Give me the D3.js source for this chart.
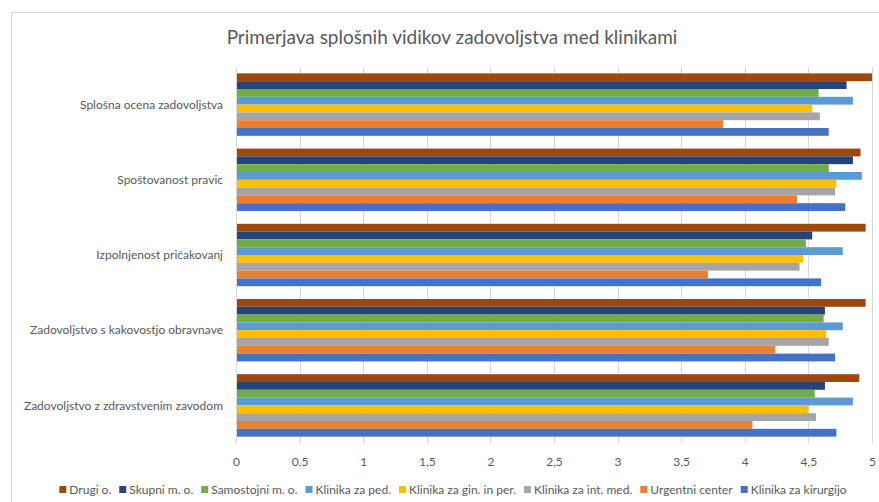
<!DOCTYPE html>
<html>
<head>
<meta charset="utf-8" />
<title>Primerjava splošnih vidikov zadovoljstva</title>
<style>
* { padding: 0; margin: 0; }
body { background: #fff; }
#chart { width: 879px; height: 502px; }
text { font-family: Lato, "Open Sans", sans-serif; fill: #595959; }
</style>
</head>
<body>
<div id="chart"></div>
<script src="https://cdn.jsdelivr.net/npm/d3@7"></script>
<script>
    // categories top to bottom
    var categories = [
        "Splošna ocena zadovoljstva",
        "Spoštovanost pravic",
        "Izpolnjenost pričakovanj",
        "Zadovoljstvo s kakovostjo obravnave",
        "Zadovoljstvo z zdravstvenim zavodom"
    ]
    // series in legend order (also top to bottom inside each group)
    var seriesNames = ["Drugi o.", "Skupni m. o.", "Samostojni m. o.", "Klinika za ped.",
        "Klinika za gin. in per.", "Klinika za int. med.", "Urgentni center", "Klinika za kirurgijo"]
    var seriesColors = ["#9e480e", "#264478", "#70ad47", "#5b9bd5", "#ffc000", "#a5a5a5", "#ed7d31", "#4472c4"]

    var drugi      = [5.00, 4.91, 4.95, 4.95, 4.90]
    var skupni     = [4.80, 4.85, 4.53, 4.63, 4.63]
    var samostojni = [4.58, 4.66, 4.48, 4.62, 4.55]
    var pediatrija = [4.85, 4.92, 4.77, 4.77, 4.85]
    var ginekol    = [4.53, 4.72, 4.46, 4.64, 4.50]
    var intMed     = [4.59, 4.71, 4.43, 4.66, 4.56]
    var urgentni   = [3.83, 4.41, 3.71, 4.24, 4.06]
    var kirurgija  = [4.66, 4.79, 4.60, 4.71, 4.72]

    var xTicks = [0, 0.5, 1, 1.5, 2, 2.5, 3, 3.5, 4, 4.5, 5]
    var title = "Primerjava splošnih vidikov zadovoljstva med klinikami"

    var seriesValues = [drugi, skupni, samostojni, pediatrija, ginekol, intMed, urgentni, kirurgija]

    var width = 879, height = 502
    var margin = {top: 67, left: 236, right: 7, bottom: 59}

    var svg = d3.select("#chart").append("svg")
        .attr("width", width).attr("height", height)

    // outer chart border
    svg.append("rect")
        .attr("x", 11.5).attr("y", 12.5)
        .attr("width", 880).attr("height", 520)
        .attr("fill", "none").attr("stroke", "#d9d9d9")

    svg.append("text")
        .attr("x", 452).attr("y", 44)
        .attr("text-anchor", "middle")
        .style("font-size", "19px")
        .text(title)

    var x = d3.scaleLinear().domain([0, 5]).range([margin.left, width - margin.right])
    var y0 = d3.scaleBand().domain(categories)
        .range([margin.top, height - margin.bottom]).paddingInner(0.17).paddingOuter(0.085)
    var y1 = d3.scaleBand().domain(seriesNames).range([0, y0.bandwidth()])

    // gridlines
    svg.append("g")
        .selectAll("line")
        .data(xTicks)
        .enter().append("line")
        .attr("x1", function(d) { return Math.round(x(d)) + 0.5 })
        .attr("x2", function(d) { return Math.round(x(d)) + 0.5 })
        .attr("y1", margin.top).attr("y2", height - margin.bottom)
        .attr("stroke", "#d9d9d9")

    // x axis labels
    var xAxis = d3.axisBottom(x).tickValues(xTicks).tickSize(0).tickPadding(14)
        .tickFormat(function(d) { return String(d).replace(".", ",") })
    svg.append("g")
        .attr("transform", "translate(0," + (height - margin.bottom) + ")")
        .call(xAxis)
        .call(function(g) { g.select(".domain").remove() })
        .selectAll("text")
        .style("font-family", "Lato, 'Open Sans', sans-serif")
        .style("font-size", "12px")
        .attr("fill", "#595959")

    // bars
    var groups = svg.append("g").selectAll("g")
        .data(categories)
        .enter().append("g")
        .attr("transform", function(d) { return "translate(0," + y0(d) + ")" })

    groups.selectAll("rect")
        .data(function(c, ci) {
            return seriesNames.map(function(s, si) {
                return {series: s, color: seriesColors[si], value: seriesValues[si][ci]}
            })
        })
        .enter().append("rect")
        .attr("x", x(0) + 1)
        .attr("y", function(d) { return y1(d.series) })
        .attr("height", y1.bandwidth())
        .attr("width", function(d) { return x(d.value) - x(0) - 1 })
        .attr("fill", function(d) { return d.color })

    // category labels
    svg.append("g").selectAll("text")
        .data(categories)
        .enter().append("text")
        .attr("x", 223)
        .attr("y", function(d) { return y0(d) + y0.bandwidth() / 2 })
        .attr("dy", "0.35em")
        .attr("text-anchor", "end")
        .style("font-size", "12px")
        .text(function(d) { return d })

    // legend
    var legend = svg.append("g").attr("transform", "translate(0,490)")
    var items = legend.selectAll("g")
        .data(seriesNames)
        .enter().append("g")
    items.append("rect")
        .attr("width", 7).attr("height", 7).attr("y", -4)
        .attr("fill", function(d, i) { return seriesColors[i] })
    items.append("text")
        .attr("x", 10).attr("dy", "0.35em")
        .style("font-size", "12px")
        .text(function(d) { return d })

    var offsets = [], total = 0
    items.each(function() {
        var w = 10 + this.querySelector("text").getComputedTextLength()
        offsets.push(total)
        total += w + 8
    })
    total -= 8
    var start = 453 - total / 2
    items.attr("transform", function(d, i) { return "translate(" + (start + offsets[i]) + ",0)" })
</script>
</body>
</html>
